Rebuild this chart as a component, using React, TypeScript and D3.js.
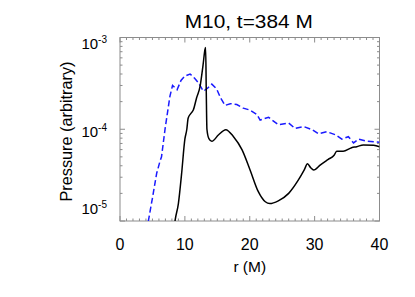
import * as d3 from 'd3';

// M10 at t=384 M: pressure profiles vs radius
const solidR = [8.3, 8.5, 9.0, 9.5, 10.0, 10.3, 10.5, 10.9, 11.3, 11.8, 12.35, 12.8, 13.1, 13.2, 13.3, 13.4, 13.7, 14.15, 15.2, 16.3, 17.5, 18.8, 20.05, 21.3, 22.4, 23.1, 24.4, 26.0, 27.5, 28.4, 28.9, 29.4, 29.85, 30.9, 32.1, 33.0, 33.4, 34.4, 35.7, 36.5, 37.5, 39.1, 40];
const solidP = [7.9e-6, 1.02e-5, 1.55e-5, 3.3e-5, 7.8e-5, 1.0e-4, 1.32e-4, 1.48e-4, 1.62e-4, 2.19e-4, 2.95e-4, 5.0e-4, 7.4e-4, 7.8e-4, 2.5e-4, 1.0e-4, 7.9e-5, 7.4e-5, 8.7e-5, 9.9e-5, 8.3e-5, 6.0e-5, 3.6e-5, 2.1e-5, 1.62e-5, 1.55e-5, 1.66e-5, 2.0e-5, 2.8e-5, 3.6e-5, 4.2e-5, 3.8e-5, 3.6e-5, 4.1e-5, 4.7e-5, 5.2e-5, 5.75e-5, 5.75e-5, 6.3e-5, 6.45e-5, 6.75e-5, 6.7e-5, 6.45e-5];

const dashR = [4.2, 4.37, 5.0, 5.65, 6.17, 6.4, 6.94, 7.7, 8.1, 8.8, 9.4, 10.0, 10.8, 11.5, 12.1, 12.85, 13.5, 14.15, 14.9, 15.5, 16.2, 17.0, 18.0, 19.0, 20.0, 21.1, 21.6, 22.9, 24.4, 26.0, 27.0, 28.3, 29.6, 30.6, 31.9, 33.2, 34.2, 35.2, 36.0, 36.8, 38.1, 39.6, 40];
const dashP = [7.9e-6, 1.0e-5, 1.78e-5, 3.3e-5, 4.5e-5, 5.0e-5, 1.0e-4, 2.3e-4, 3.0e-4, 2.7e-4, 3.4e-4, 3.8e-4, 4.0e-4, 3.6e-4, 3.2e-4, 2.6e-4, 2.8e-4, 3.1e-4, 2.75e-4, 2.2e-4, 1.82e-4, 1.9e-4, 1.86e-4, 1.7e-4, 1.62e-4, 1.45e-4, 1.26e-4, 1.35e-4, 1.12e-4, 1.17e-4, 1.02e-4, 1.07e-4, 9.9e-5, 8.9e-5, 9.4e-5, 8.7e-5, 7.8e-5, 8.3e-5, 7.1e-5, 7.8e-5, 7.4e-5, 7.25e-5, 7.2e-5];

const xTicks = [0, 10, 20, 30, 40];
const yExponents = [-3, -4, -5];

const W = 415;
const H = 297;
const left = 120;
const right = 379.5;
const top = 37.5;
const bottom = 221;
const font = '"Liberation Sans", Arial, Helvetica, sans-serif';
const axisColor = '#8c8c8c';

export default function App() {
  const x = d3.scaleLinear().domain([0, 40]).range([left, right]);
  const y = d3.scaleLog().domain([1e-5, 1e-3]).range([bottom, top]);

  const solid = solidR.map((r, i) => [r, solidP[i]] as [number, number]);
  const dashed = dashR.map((r, i) => [r, dashP[i]] as [number, number]);

  const solidLine = d3.line<[number, number]>()
    .x(d => x(d[0]))
    .y(d => y(d[1]))
    .curve(d3.curveMonotoneX);
  const dashLine = d3.line<[number, number]>()
    .x(d => x(d[0]))
    .y(d => y(d[1]));

  // minor ticks: every 1 on x, 2..9 per decade on y
  const xMinor = d3.range(0, 41, 1).filter(v => v % 10 !== 0);
  const yMinor: number[] = [];
  [-5, -4].forEach(e => {
    for (let k = 2; k <= 9; k++) yMinor.push(k * Math.pow(10, e));
  });
  const yMajor = yExponents.map(e => Math.pow(10, e));

  const labelShift = (e: number) => (e === -3 ? 11.5 : e === -5 ? -7 : 8);

  return (
    <svg width={W} height={H} style={{ position: 'absolute', left: 0, top: 0, background: '#fff' }}>
      <defs>
        <clipPath id="plot">
          <rect x={left} y={top} width={right - left} height={bottom - top} />
        </clipPath>
      </defs>

      <text x={(left + right) / 2 - 1} y={27.5} textAnchor="middle" fontFamily={font} fontSize={18.5}
        textLength={128} lengthAdjust="spacingAndGlyphs" fill="#000">
        M10, t=384 M
      </text>

      {/* frame */}
      <rect x={left} y={top} width={right - left} height={bottom - top} fill="none" stroke={axisColor} strokeWidth={1} />

      {/* x ticks bottom + top */}
      {xMinor.map(v => (
        <g key={'xm' + v} stroke={axisColor} strokeWidth={1}>
          <line x1={x(v)} x2={x(v)} y1={bottom} y2={bottom - 2.5} />
          <line x1={x(v)} x2={x(v)} y1={top} y2={top + 2.5} />
        </g>
      ))}
      {xTicks.map(v => (
        <g key={'xM' + v} stroke={axisColor} strokeWidth={1}>
          <line x1={x(v)} x2={x(v)} y1={bottom} y2={bottom - 5} />
          <line x1={x(v)} x2={x(v)} y1={top} y2={top + 5} />
        </g>
      ))}

      {/* y ticks left + right */}
      {yMinor.map(v => (
        <g key={'ym' + v} stroke={axisColor} strokeWidth={1}>
          <line x1={left} x2={left + 2.5} y1={y(v)} y2={y(v)} />
          <line x1={right} x2={right - 2.5} y1={y(v)} y2={y(v)} />
        </g>
      ))}
      {yMajor.map(v => (
        <g key={'yM' + v} stroke={axisColor} strokeWidth={1}>
          <line x1={left} x2={left + 5} y1={y(v)} y2={y(v)} />
          <line x1={right} x2={right - 5} y1={y(v)} y2={y(v)} />
        </g>
      ))}

      {/* tick labels */}
      {xTicks.map(v => (
        <text key={'xl' + v} x={x(v)} y={249.5} textAnchor="middle" fontFamily={font} fontSize={16} fill="#000">
          {v}
        </text>
      ))}
      {yExponents.map(e => (
        <text key={'yl' + e} x={107} y={y(Math.pow(10, e)) + labelShift(e)} textAnchor="end" fontFamily={font} fontSize={15} fill="#000">
          10<tspan fontSize={10} dy={-6.5}>{e}</tspan>
        </text>
      ))}

      <text x={(left + right) / 2} y={272} textAnchor="middle" fontFamily={font} fontSize={15.5} fill="#000">
        r (M)
      </text>
      <text transform={`translate(71.5, 131.5) rotate(-90)`} textAnchor="middle" fontFamily={font} fontSize={16.5}
        textLength={140} lengthAdjust="spacingAndGlyphs" fill="#000">
        Pressure (arbitrary)
      </text>

      <g clipPath="url(#plot)">
        <path d={dashLine(dashed) || ''} fill="none" stroke="#1a1aff" strokeWidth={1.5} strokeDasharray="6,3" />
        <path d={solidLine(solid) || ''} fill="none" stroke="#000" strokeWidth={1.5} />
      </g>
    </svg>
  );
}
